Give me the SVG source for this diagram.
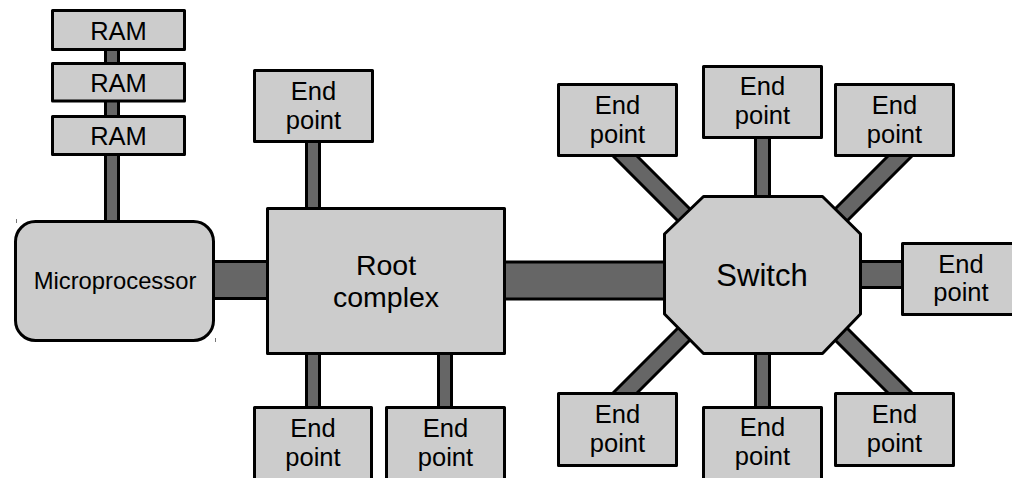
<svg xmlns="http://www.w3.org/2000/svg" width="1012" height="478" viewBox="0 0 1012 478">
<style>
.node{fill:#cccccc;stroke:#000;stroke-width:3;stroke-linejoin:round}
.t{font-family:"Liberation Sans",Arial,sans-serif;fill:#000;text-anchor:middle}
.ep{font-size:25.5px}
.bo{stroke:#000;fill:none}
.bi{stroke:#666666;fill:none}
.tick{stroke:#777;stroke-width:1}
</style>
<rect width="1012" height="478" fill="#fff"/>
<g id="connectors">
  <line class="bo" x1="112" y1="30" x2="112" y2="230" stroke-width="16"/>
  <line class="bi" x1="112" y1="30" x2="112" y2="230" stroke-width="10"/>
  <line class="bo" x1="200" y1="280" x2="280" y2="280" stroke-width="40"/>
  <line class="bi" x1="200" y1="280" x2="280" y2="280" stroke-width="34"/>
  <line class="bo" x1="490" y1="280.5" x2="680" y2="280.5" stroke-width="40"/>
  <line class="bi" x1="490" y1="280.5" x2="680" y2="280.5" stroke-width="34"/>
  <line class="bo" x1="313" y1="130" x2="313" y2="220" stroke-width="16"/>
  <line class="bi" x1="313" y1="130" x2="313" y2="220" stroke-width="10"/>
  <line class="bo" x1="313" y1="340" x2="313" y2="420" stroke-width="16"/>
  <line class="bi" x1="313" y1="340" x2="313" y2="420" stroke-width="10"/>
  <line class="bo" x1="445" y1="340" x2="445" y2="420" stroke-width="16"/>
  <line class="bi" x1="445" y1="340" x2="445" y2="420" stroke-width="10"/>
  <line class="bo" x1="762.5" y1="130" x2="762.5" y2="210" stroke-width="17"/>
  <line class="bi" x1="762.5" y1="130" x2="762.5" y2="210" stroke-width="11"/>
  <line class="bo" x1="762.5" y1="340" x2="762.5" y2="420" stroke-width="17"/>
  <line class="bi" x1="762.5" y1="340" x2="762.5" y2="420" stroke-width="11"/>
  <line class="bo" x1="850" y1="274.5" x2="915" y2="274.5" stroke-width="29"/>
  <line class="bi" x1="850" y1="274.5" x2="915" y2="274.5" stroke-width="23"/>
  <line class="bo" x1="606" y1="137" x2="726" y2="257" stroke-width="20"/>
  <line class="bi" x1="606" y1="137" x2="726" y2="257" stroke-width="14"/>
  <line class="bo" x1="919" y1="137" x2="799" y2="257" stroke-width="20"/>
  <line class="bi" x1="919" y1="137" x2="799" y2="257" stroke-width="14"/>
  <line class="bo" x1="606" y1="412" x2="726" y2="292" stroke-width="20"/>
  <line class="bi" x1="606" y1="412" x2="726" y2="292" stroke-width="14"/>
  <line class="bo" x1="919" y1="412" x2="799" y2="292" stroke-width="20"/>
  <line class="bi" x1="919" y1="412" x2="799" y2="292" stroke-width="14"/>
</g>
<g id="ram1"><rect class="node" x="52.5" y="10.5" width="132" height="39"/><text class="t ep" x="118.5" y="40">RAM</text></g>
<g id="ram2"><rect class="node" x="52.5" y="63.5" width="132" height="37.5"/><text class="t ep" x="118.5" y="91.7">RAM</text></g>
<g id="ram3"><rect class="node" x="52.5" y="116.5" width="132" height="38"/><text class="t ep" x="118.5" y="145">RAM</text></g>
<g id="microprocessor">
  <rect class="node" x="15.5" y="221.5" width="198" height="119" rx="20" ry="20"/>
  <text class="t" x="115" y="289" font-size="23.8">Microprocessor</text>
  <line class="tick" x1="16.5" y1="219" x2="16.5" y2="223"/>
  <line class="tick" x1="215.5" y1="338" x2="215.5" y2="342"/>
</g>
<g id="root">
  <rect class="node" x="267.5" y="208.5" width="237" height="145"/>
  <text class="t" x="386" y="275" font-size="28.5">Root</text>
  <text class="t" x="386" y="307" font-size="28.5">complex</text>
</g>
<g id="switch">
  <polygon class="node" points="703.5,196.5 822.5,196.5 860.5,234 860.5,314 822.5,353.5 703.5,353.5 664.5,314 664.5,234"/>
  <text class="t" x="762" y="285.5" font-size="31">Switch</text>
</g>
<g id="ep-root-top"><rect class="node" x="254.5" y="70.5" width="118" height="71"/><text class="t ep" x="313.5" y="100">End</text><text class="t ep" x="313.5" y="129">point</text></g>
<g id="ep-root-bl"><rect class="node" x="254.5" y="407.5" width="117" height="80"/><text class="t ep" x="313" y="436.5">End</text><text class="t ep" x="313" y="466">point</text></g>
<g id="ep-root-br"><rect class="node" x="386.5" y="407.5" width="118" height="80"/><text class="t ep" x="445.5" y="436.5">End</text><text class="t ep" x="445.5" y="466">point</text></g>
<g id="ep-sw-tl"><rect class="node" x="558.5" y="84.5" width="118" height="71"/><text class="t ep" x="617.5" y="113.5">End</text><text class="t ep" x="617.5" y="143">point</text></g>
<g id="ep-sw-t"><rect class="node" x="703.5" y="66.5" width="118" height="71"/><text class="t ep" x="762.5" y="95">End</text><text class="t ep" x="762.5" y="124">point</text></g>
<g id="ep-sw-tr"><rect class="node" x="835.5" y="84.5" width="118" height="71"/><text class="t ep" x="894.5" y="113.5">End</text><text class="t ep" x="894.5" y="143">point</text></g>
<g id="ep-sw-r"><rect class="node" x="902.5" y="243.5" width="118" height="71"/><text class="t ep" x="961" y="272.5">End</text><text class="t ep" x="961" y="301">point</text></g>
<g id="ep-sw-bl"><rect class="node" x="558.5" y="393.5" width="118" height="72"/><text class="t ep" x="617.5" y="422.5">End</text><text class="t ep" x="617.5" y="451.5">point</text></g>
<g id="ep-sw-b"><rect class="node" x="703.5" y="407.5" width="118" height="80"/><text class="t ep" x="762.5" y="436">End</text><text class="t ep" x="762.5" y="465">point</text></g>
<g id="ep-sw-br"><rect class="node" x="835.5" y="393.5" width="118" height="72"/><text class="t ep" x="894.5" y="422.5">End</text><text class="t ep" x="894.5" y="451.5">point</text></g>
</svg>
